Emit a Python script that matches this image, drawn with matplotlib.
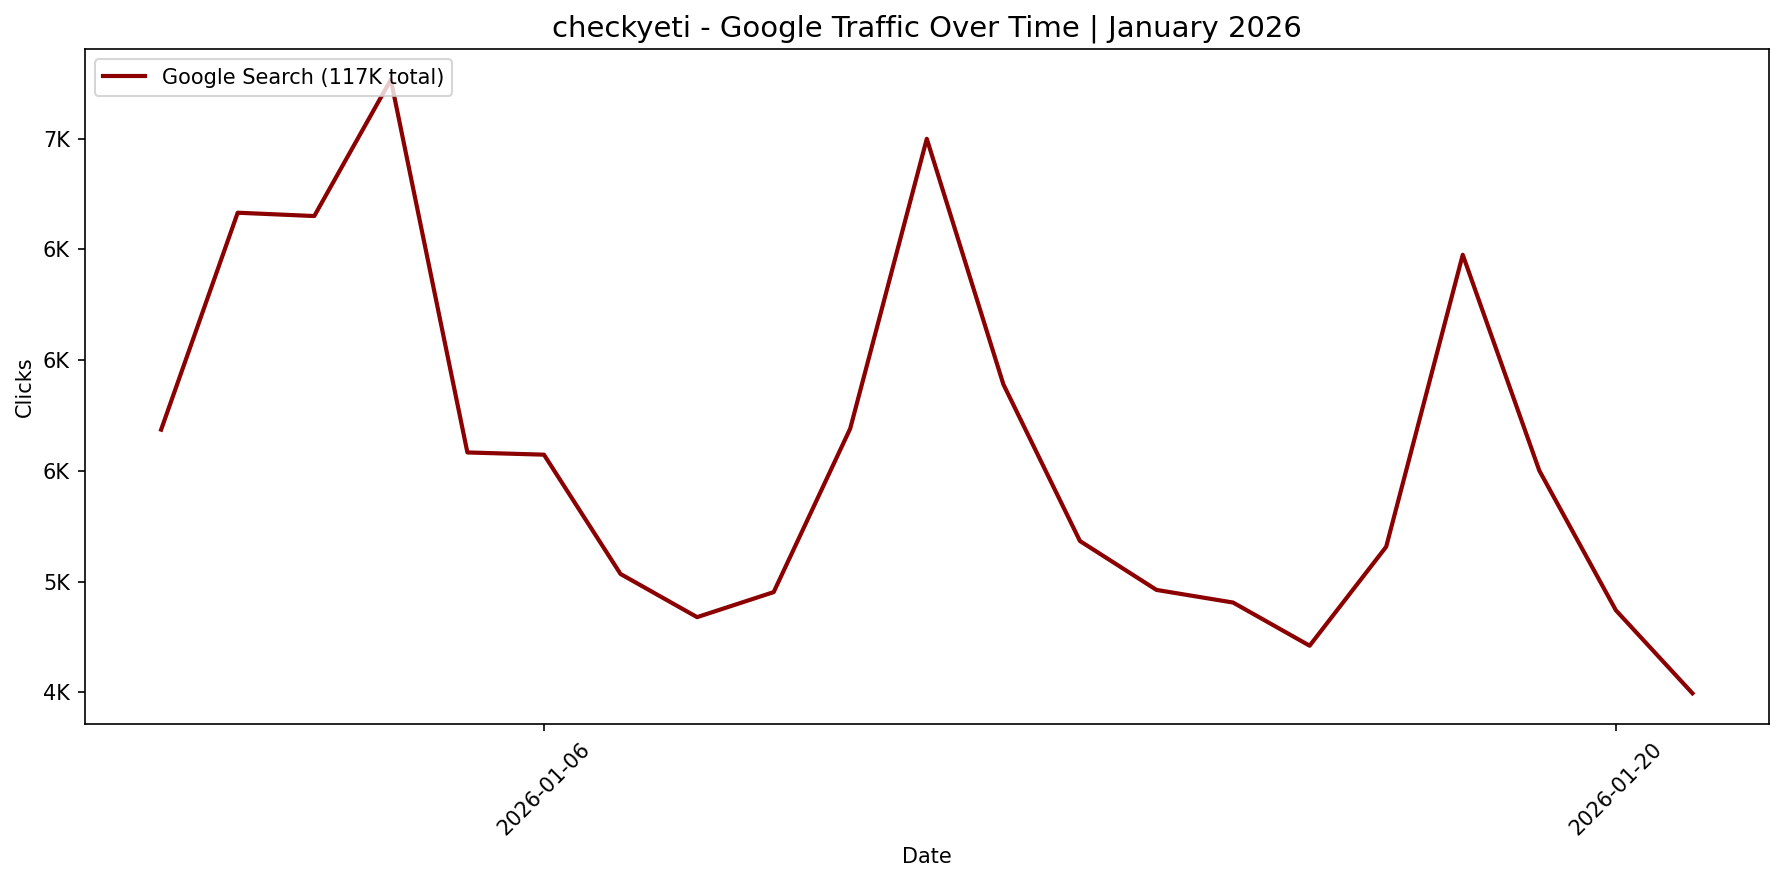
import matplotlib
matplotlib.use("Agg")
import matplotlib.pyplot as plt
import matplotlib.dates as mdates
from matplotlib.ticker import FuncFormatter, MultipleLocator
import pandas as pd

dates = pd.date_range("2026-01-01", "2026-01-21", freq="D")
clicks = [5686, 6666, 6651, 7267, 5583, 5573, 5034, 4839, 4952, 5691, 7000,
          5891, 5183, 4962, 4905, 4710, 5157, 6476, 5501, 4870, 4495]
x_ticks = pd.to_datetime(["2026-01-06", "2026-01-20"])
total_label = f"Google Search ({sum(clicks)/1000:.0f}K total)"

fig, ax = plt.subplots(figsize=(1784/150, 883/150), dpi=150)
ax.plot(dates, clicks, color="#8B0000", linewidth=2, label=total_label)
ax.set_title("checkyeti - Google Traffic Over Time | January 2026", fontsize=14)
ax.set_xlabel("Date")
ax.set_ylabel("Clicks")
ax.yaxis.set_major_locator(MultipleLocator(500))
ax.yaxis.set_major_formatter(FuncFormatter(lambda v, p: f"{v/1000:.0f}K"))
ax.set_xticks(x_ticks)
ax.xaxis.set_major_formatter(mdates.DateFormatter("%Y-%m-%d"))
plt.setp(ax.get_xticklabels(), rotation=45)
ax.legend(loc="upper left")
fig.subplots_adjust(left=0.0474, right=0.9916, top=0.9445, bottom=0.1801)
fig.savefig("out.png", dpi=150)
